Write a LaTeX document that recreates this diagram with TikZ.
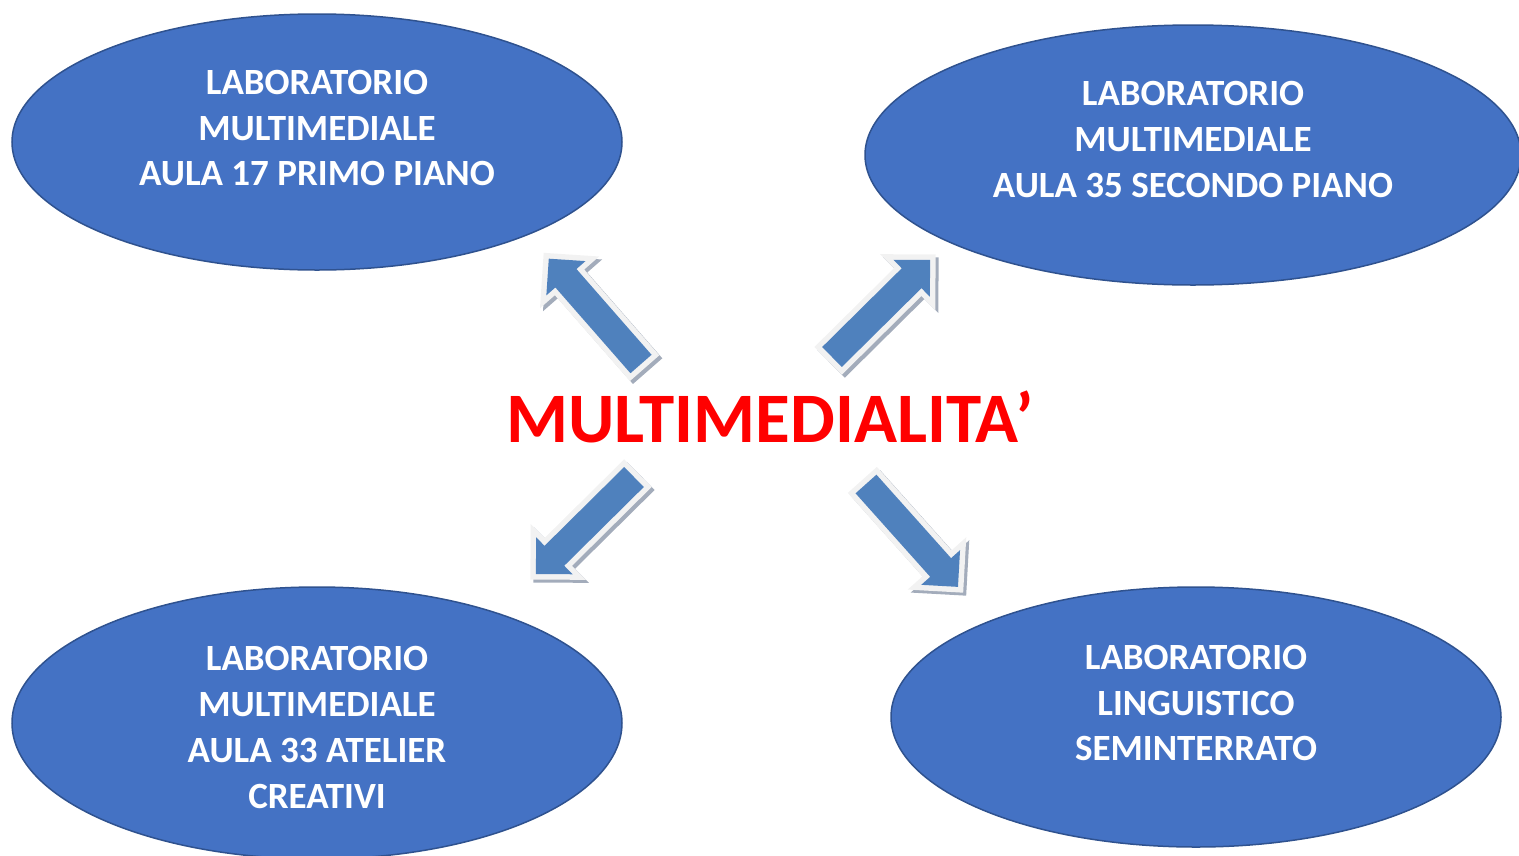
\documentclass[tikz,border=0pt]{standalone}
\usepackage{fontspec}
\setmainfont{Carlito}
\usetikzlibrary{shapes.geometric}
\definecolor{ovalblue}{HTML}{4472C4}
\definecolor{ovalline}{HTML}{2F528F}
\definecolor{arrowblue}{HTML}{4F81BD}
\definecolor{arrowrim}{HTML}{F2F2F2}
\definecolor{arrowshade}{HTML}{A3ACBB}
\tikzset{
  oval/.style={ellipse, fill=ovalblue, draw=ovalline, line width=1.5pt, inner sep=0pt},
  room/.style={align=center, text=white, font=\fontsize{37pt}{45.7pt}\selectfont\bfseries},
  rim/.style={line width=11pt, line join=miter}
}
% block arrow: tail x, tail y, angle, length
\newcommand\bigarrow[4]{%
  \begin{scope}[shift={(#1+3,#2+3)},rotate=#3]
    \filldraw[rim,arrowshade] (0,-14) -- ({#4-26},-14) -- ({#4-26},-26) -- (#4,0)
      -- ({#4-26},26) -- ({#4-26},14) -- (0,14) -- cycle;
  \end{scope}
  \begin{scope}[shift={(#1,#2)},rotate=#3]
    \filldraw[rim,arrowrim] (0,-14) -- ({#4-26},-14) -- ({#4-26},-26) -- (#4,0)
      -- ({#4-26},26) -- ({#4-26},14) -- (0,14) -- cycle;
    \fill[arrowblue] (0,-14) -- ({#4-26},-14) -- ({#4-26},-26) -- (#4,0)
      -- ({#4-26},26) -- ({#4-26},14) -- (0,14) -- cycle;
  \end{scope}}
\begin{document}
\begin{tikzpicture}[x=1pt,y=-1pt]
  \useasboundingbox (0,0) rectangle (1519,855);
  \node[oval, minimum width=610, minimum height=256] (oval17) at (317,142) {};
  \node[oval, minimum width=656, minimum height=260] (oval35) at (1193,155) {};
  \node[oval, minimum width=610, minimum height=272] (oval33) at (317,723) {};
  \node[oval, minimum width=610, minimum height=260] (ovalling) at (1196,717) {};
  \node[room] (lab17) at (317,128) {LABORATORIO\\MULTIMEDIALE\\AULA 17 PRIMO PIANO};
  \node[room] (lab35) at (1193,139.5) {LABORATORIO\\MULTIMEDIALE\\AULA 35 SECONDO PIANO};
  \node[room] (lab33) at (317,727.5) {LABORATORIO\\MULTIMEDIALE\\AULA 33 ATELIER\\CREATIVI};
  \node[room] (labling) at (1196,703) {LABORATORIO\\LINGUISTICO\\SEMINTERRATO};
  % arrows
  \bigarrow{641}{364}{131.2}{140}
  \bigarrow{832}{357}{44.7}{138}
  \bigarrow{634}{477}{224.7}{138}
  \bigarrow{866}{484}{-48.2}{138}
  \node[anchor=base, text=red, font=\fontsize{71pt}{85pt}\selectfont\bfseries] (title) at (770,442) {MULTIMEDIALITA’};
\end{tikzpicture}
\end{document}
